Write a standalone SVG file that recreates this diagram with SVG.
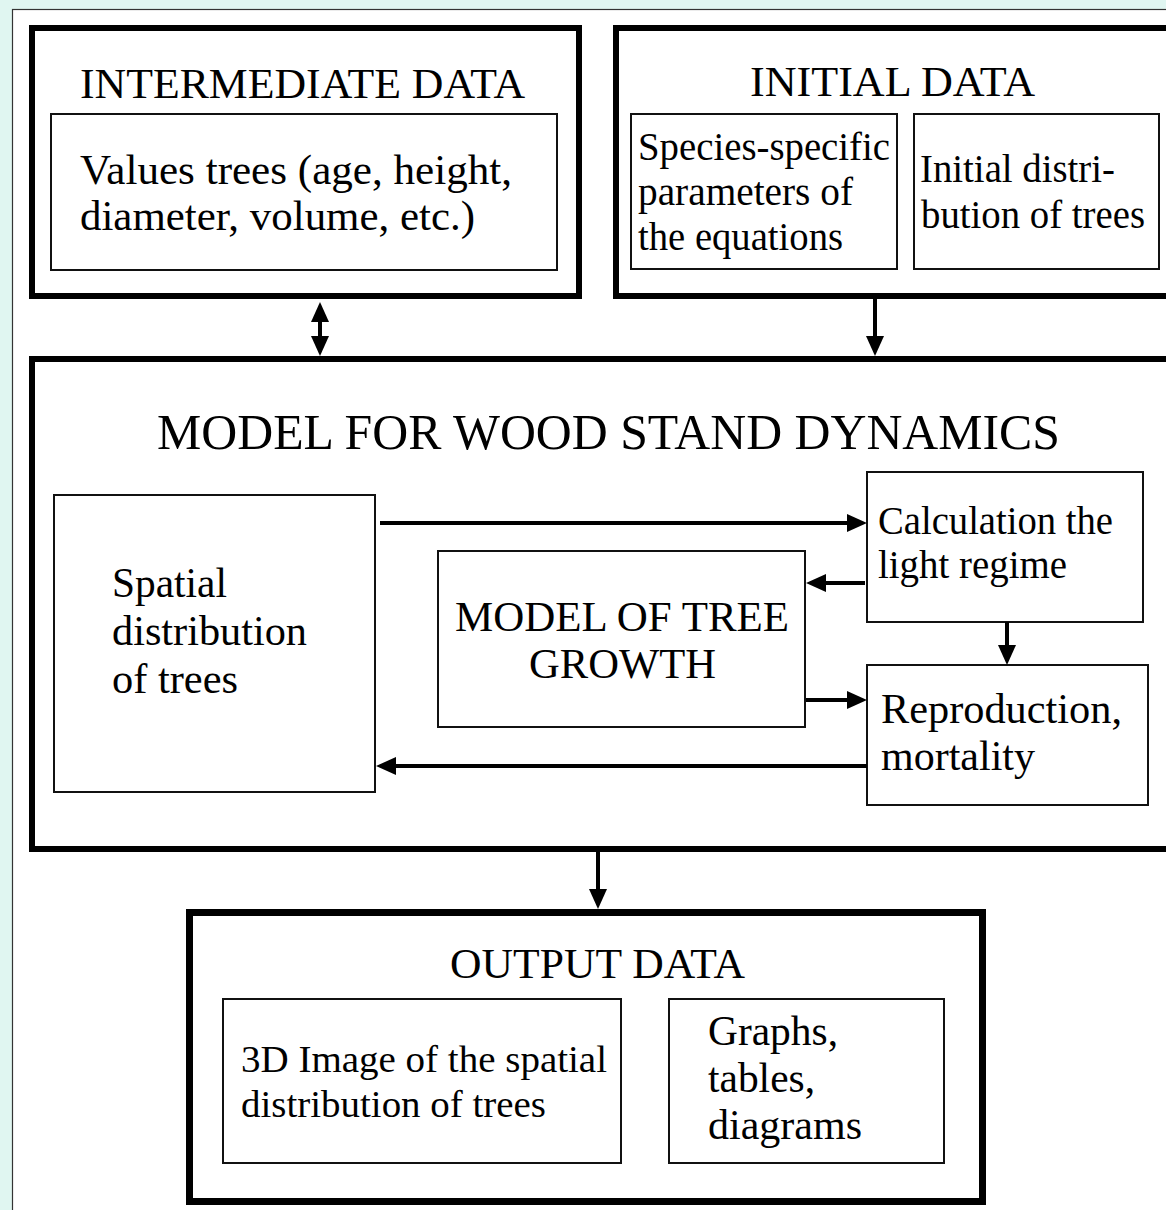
<svg xmlns="http://www.w3.org/2000/svg" width="1166" height="1210" viewBox="0 0 1166 1210" font-family="Liberation Serif, serif">
  <style>
    .thick { fill: none; stroke: #000; stroke-width: 6; }
    .thin { fill: #fff; stroke: #111; stroke-width: 2; }
    .conn { fill: none; stroke: #000; stroke-width: 4; }
    text { fill: #000; }
    .t42 { font-size: 42px; }
    .t39 { font-size: 39px; }
    .t37 { font-size: 37.5px; }
    .title { font-size: 50px; }
  </style>
  <defs>
    <marker id="ah" markerUnits="userSpaceOnUse" markerWidth="20" markerHeight="18" viewBox="0 0 20 18" refX="4" refY="9" orient="auto-start-reverse">
      <path d="M0,0 L20,9 L0,18 z" fill="#000"/>
    </marker>
  </defs>

  <rect x="0" y="0" width="1166" height="1210" fill="#e0f6f1"/>
  <rect x="12.5" y="9.5" width="1170" height="1220" fill="#fff" stroke="#333" stroke-width="1.2"/>

  <g id="intermediate-data">
    <rect class="thick" x="32" y="28" width="547" height="268"/>
    <text class="t42" x="80" y="98" textLength="445" lengthAdjust="spacingAndGlyphs">INTERMEDIATE DATA</text>
    <g id="values-trees">
      <rect class="thin" x="51" y="114" width="506" height="156"/>
      <text class="t42" x="80" y="184" textLength="432" lengthAdjust="spacingAndGlyphs">Values trees (age, height,</text>
      <text class="t42" x="80" y="230" textLength="395" lengthAdjust="spacingAndGlyphs">diameter, volume, etc.)</text>
    </g>
  </g>

  <g id="initial-data">
    <rect class="thick" x="616" y="28" width="570" height="268"/>
    <text class="t42" x="750" y="96" textLength="285" lengthAdjust="spacingAndGlyphs">INITIAL DATA</text>
    <g id="species-params">
      <rect class="thin" x="631" y="114" width="266" height="155"/>
      <text class="t39" x="638" y="160" textLength="252" lengthAdjust="spacingAndGlyphs">Species-specific</text>
      <text class="t39" x="638" y="205" textLength="215" lengthAdjust="spacingAndGlyphs">parameters of</text>
      <text class="t39" x="638" y="250" textLength="205" lengthAdjust="spacingAndGlyphs">the equations</text>
    </g>
    <g id="initial-distribution">
      <rect class="thin" x="914" y="114" width="245" height="155"/>
      <text class="t39" x="920" y="182" textLength="195" lengthAdjust="spacingAndGlyphs">Initial distri-</text>
      <text class="t39" x="921" y="228" textLength="224" lengthAdjust="spacingAndGlyphs">bution of trees</text>
    </g>
  </g>

  <g id="model-wood-stand">
    <rect class="thick" x="32" y="359" width="1150" height="490"/>
    <text class="title" x="157" y="449" textLength="903" lengthAdjust="spacingAndGlyphs">MODEL FOR WOOD STAND DYNAMICS</text>
    <g id="spatial-distribution">
      <rect class="thin" x="54" y="495" width="321" height="297"/>
      <text class="t42" x="112" y="597" textLength="115" lengthAdjust="spacingAndGlyphs">Spatial</text>
      <text class="t42" x="112" y="645" textLength="195" lengthAdjust="spacingAndGlyphs">distribution</text>
      <text class="t42" x="112" y="693" textLength="126" lengthAdjust="spacingAndGlyphs">of trees</text>
    </g>
    <g id="tree-growth">
      <rect class="thin" x="438" y="551" width="367" height="176"/>
      <text class="t42" x="455" y="631" textLength="334" lengthAdjust="spacingAndGlyphs">MODEL OF TREE</text>
      <text class="t42" x="529" y="678" textLength="187" lengthAdjust="spacingAndGlyphs">GROWTH</text>
    </g>
    <g id="light-regime">
      <rect class="thin" x="867" y="472" width="276" height="150"/>
      <text class="t39" x="878" y="534" textLength="235" lengthAdjust="spacingAndGlyphs">Calculation the</text>
      <text class="t39" x="878" y="578" textLength="189" lengthAdjust="spacingAndGlyphs">light regime</text>
    </g>
    <g id="reproduction">
      <rect class="thin" x="867" y="665" width="281" height="140"/>
      <text class="t42" x="881" y="723" textLength="241" lengthAdjust="spacingAndGlyphs">Reproduction,</text>
      <text class="t42" x="881" y="770" textLength="154" lengthAdjust="spacingAndGlyphs">mortality</text>
    </g>
  </g>

  <g id="output-data">
    <rect x="189.5" y="912.5" width="793" height="289" fill="none" stroke="#000" stroke-width="7"/>
    <text class="t42" x="450" y="978" textLength="295" lengthAdjust="spacingAndGlyphs">OUTPUT DATA</text>
    <g id="image-3d">
      <rect class="thin" x="223" y="999" width="398" height="164"/>
      <text class="t37" x="241" y="1072" textLength="366" lengthAdjust="spacingAndGlyphs">3D Image of the spatial</text>
      <text class="t37" x="241" y="1117" textLength="305" lengthAdjust="spacingAndGlyphs">distribution of trees</text>
    </g>
    <g id="graphs">
      <rect class="thin" x="669" y="999" width="275" height="164"/>
      <text class="t42" x="708" y="1045" textLength="130" lengthAdjust="spacingAndGlyphs">Graphs,</text>
      <text class="t42" x="708" y="1092" textLength="107" lengthAdjust="spacingAndGlyphs">tables,</text>
      <text class="t42" x="708" y="1139" textLength="154" lengthAdjust="spacingAndGlyphs">diagrams</text>
    </g>
  </g>

  <g id="connectors">
    <line class="conn" x1="320" y1="318" x2="320" y2="340" marker-start="url(#ah)" marker-end="url(#ah)"/>
    <line class="conn" x1="875" y1="299" x2="875" y2="340" marker-end="url(#ah)"/>
    <line class="conn" x1="598" y1="852" x2="598" y2="893" marker-end="url(#ah)"/>
    <line class="conn" x1="380" y1="523" x2="851" y2="523" marker-end="url(#ah)"/>
    <line class="conn" x1="865" y1="583" x2="822" y2="583" marker-end="url(#ah)"/>
    <line class="conn" x1="1007" y1="622" x2="1007" y2="649" marker-end="url(#ah)"/>
    <line class="conn" x1="806" y1="700" x2="851" y2="700" marker-end="url(#ah)"/>
    <line class="conn" x1="867" y1="766" x2="392" y2="766" marker-end="url(#ah)"/>
  </g>
</svg>
